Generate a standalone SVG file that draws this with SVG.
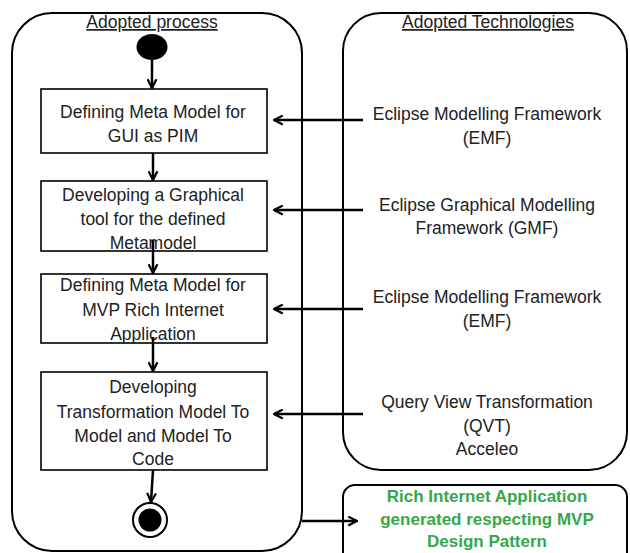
<svg xmlns="http://www.w3.org/2000/svg" width="630" height="553" viewBox="0 0 630 553">
<style>
.container{fill:#fff;stroke:#000;stroke-width:2}
.box{fill:#fff;stroke:#000;stroke-width:1.6}
.t{font-family:"Liberation Sans",Arial,sans-serif;font-size:17.5px;fill:#222;text-anchor:middle}
.title{text-decoration:underline}
.g{font-family:"Liberation Sans",Arial,sans-serif;font-size:17px;font-weight:bold;fill:#35a84a;text-anchor:middle}
.c{fill:none;stroke:#000;stroke-width:2.5;marker-end:url(#arr)}
</style>
<defs>
<marker id="arr" viewBox="0 0 10 10" refX="9" refY="5" markerWidth="11" markerHeight="11" markerUnits="userSpaceOnUse" orient="auto">
<path d="M1,1 L9,5 L1,9" fill="none" stroke="#000" stroke-width="2"/>
</marker>
</defs>
<rect width="630" height="553" fill="#fff"/>
<g id="lane-process">
<rect class="container" x="12" y="13" width="290" height="538" rx="40" ry="40"/>
<text class="t title" x="152" y="28">Adopted process</text>
</g>
<g id="lane-tech">
<rect class="container" x="343" y="13" width="284" height="457" rx="38" ry="38"/>
<text class="t title" x="488" y="28">Adopted Technologies</text>
</g>
<g id="start"><ellipse cx="152" cy="47" rx="15.5" ry="13" fill="#000"/></g>
<g id="box1">
<rect class="box" x="41" y="89" width="226" height="64"/>
<text class="t" x="153" y="118">Defining Meta Model for</text>
<text class="t" x="153" y="142">GUI as PIM</text>
</g>
<g id="box2">
<rect class="box" x="41" y="181" width="226" height="70"/>
<text class="t" x="153" y="201">Developing a Graphical</text>
<text class="t" x="153" y="225">tool for the defined</text>
<text class="t" x="153" y="249">Metamodel</text>
</g>
<g id="box3">
<rect class="box" x="41" y="274" width="226" height="69"/>
<text class="t" x="153" y="291">Defining Meta Model for</text>
<text class="t" x="153" y="316">MVP Rich Internet</text>
<text class="t" x="153" y="340">Application</text>
</g>
<g id="box4">
<rect class="box" x="41" y="372" width="226" height="98"/>
<text class="t" x="153" y="393">Developing</text>
<text class="t" x="153" y="418">Transformation Model To</text>
<text class="t" x="153" y="442">Model and Model To</text>
<text class="t" x="153" y="465">Code</text>
</g>
<g id="end">
<circle cx="150" cy="520" r="17" fill="#fff" stroke="#000" stroke-width="2"/>
<circle cx="150" cy="520" r="11.5" fill="#000"/>
</g>
<g id="tech1">
<text class="t" x="487" y="120">Eclipse Modelling Framework</text>
<text class="t" x="487" y="144">(EMF)</text>
</g>
<g id="tech2">
<text class="t" x="487" y="211">Eclipse Graphical Modelling</text>
<text class="t" x="487" y="234">Framework (GMF)</text>
</g>
<g id="tech3">
<text class="t" x="487" y="303">Eclipse Modelling Framework</text>
<text class="t" x="487" y="327">(EMF)</text>
</g>
<g id="tech4">
<text class="t" x="487" y="408">Query View Transformation</text>
<text class="t" x="487" y="432">(QVT)</text>
<text class="t" x="487" y="455">Acceleo</text>
</g>
<g id="result">
<rect x="343" y="485" width="284" height="85" rx="12" ry="12" fill="#fff" stroke="#000" stroke-width="2"/>
<text class="g" x="487" y="502">Rich Internet Application</text>
<text class="g" x="487" y="525">generated respecting MVP</text>
<text class="g" x="487" y="547">Design Pattern</text>
</g>
<g id="connectors">
<path class="c" d="M152,60 L152,88"/>
<path class="c" d="M153,153 L153,180"/>
<path class="c" d="M153,240 L153,273"/>
<path class="c" d="M153,337 L153,371"/>
<path class="c" d="M153,470 L151,502"/>
<path class="c" d="M363,120 L274,120"/>
<path class="c" d="M363,210 L274,210"/>
<path class="c" d="M363,309 L274,309"/>
<path class="c" d="M363,414 L274,414"/>
<path class="c" d="M302,521 L357,521"/>
</g>
</svg>
